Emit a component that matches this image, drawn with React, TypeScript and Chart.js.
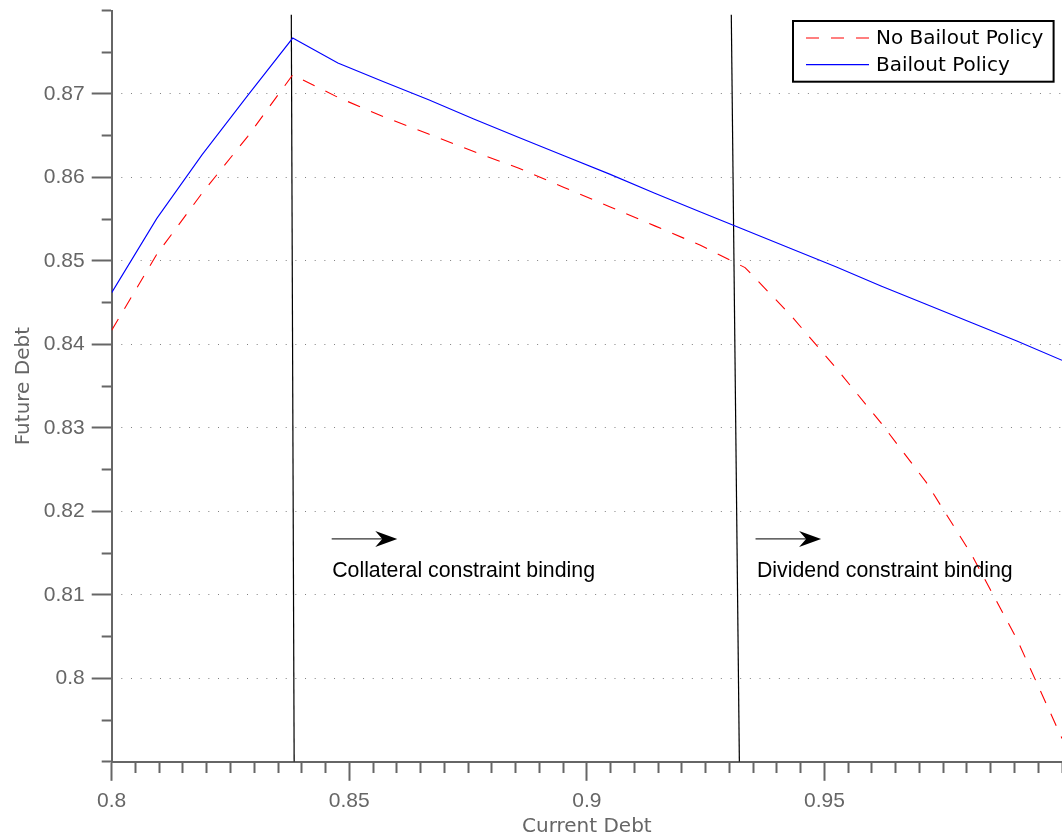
import React, { useEffect, useRef } from 'react';
import { Chart, registerables } from 'chart.js';

Chart.register(...registerables);

// ---- data ----
const currentDebt = [0.8, 0.8095, 0.819, 0.8286, 0.8381, 0.8476, 0.8571, 0.8667, 0.8762, 0.8857, 0.8952,
  0.9048, 0.9143, 0.9238, 0.9333, 0.9429, 0.9524, 0.9619, 0.9714, 0.981, 0.9905, 1.0];
const noBailout = [0.8417, 0.8508, 0.8581, 0.8649, 0.8723, 0.8696, 0.8673, 0.8652, 0.8631, 0.8611, 0.8588,
  0.8565, 0.8542, 0.8519, 0.8492, 0.8435, 0.8372, 0.8306, 0.8235, 0.8148, 0.8047, 0.7928];
const bailout = [0.8462, 0.8551, 0.8627, 0.8698, 0.8767, 0.8737, 0.8715, 0.8693, 0.867, 0.8648, 0.8626,
  0.8604, 0.8581, 0.8559, 0.8537, 0.8515, 0.8493, 0.847, 0.8448, 0.8426, 0.8404, 0.8381];

const seriesNames = ['No Bailout Policy', 'Bailout Policy'];

// constraint threshold lines (top x, bottom x) and their vertical span
const collateralLineX = [0.8378, 0.8384];
const dividendLineX = [0.9304, 0.9321];
const thresholdLineY = [0.8795, 0.79];

// annotations
const annotationTexts = ['Collateral constraint binding', 'Dividend constraint binding'];
const arrowStartX = [0.8463, 0.9355];
const arrowEndX = [0.8601, 0.9493];
const textX = [0.8464, 0.9358];
const arrowY = 0.8167;
const textY = 0.8121;

// ticks
const xMajorTicks = [0.8, 0.85, 0.9, 0.95];
const yMajorTicks = [0.8, 0.81, 0.82, 0.83, 0.84, 0.85, 0.86, 0.87];

const isIn = (list: number[], v: number) => list.some((t) => Math.abs(t - v) < 1e-6);

const TICK_FONT = '"Liberation Sans", Arial, sans-serif';
const TITLE_FONT = '"DejaVu Sans", sans-serif';
const AXIS_GRAY = '#666666';

const overlayPlugin = {
  id: 'overlay',
  afterDatasetsDraw(chart: any) {
    const { ctx, chartArea } = chart;
    const xs = chart.scales.x;
    const ys = chart.scales.y;
    ctx.save();
    // arrows + texts
    annotationTexts.forEach((t, i) => {
      const x1 = xs.getPixelForValue(arrowStartX[i]);
      const x2 = xs.getPixelForValue(arrowEndX[i]);
      const ya = ys.getPixelForValue(arrowY);
      ctx.strokeStyle = '#333';
      ctx.lineWidth = 1.4;
      ctx.setLineDash([]);
      ctx.beginPath();
      ctx.moveTo(x1, ya);
      ctx.lineTo(x2 - 14, ya);
      ctx.stroke();
      ctx.fillStyle = '#000';
      ctx.beginPath();
      ctx.moveTo(x2, ya);
      ctx.lineTo(x2 - 22, ya - 8);
      ctx.lineTo(x2 - 15, ya);
      ctx.lineTo(x2 - 22, ya + 8);
      ctx.closePath();
      ctx.fill();
      ctx.font = '21.3px ' + TICK_FONT;
      ctx.textAlign = 'left';
      ctx.textBaseline = 'alphabetic';
      ctx.fillText(t, xs.getPixelForValue(textX[i]), ys.getPixelForValue(textY));
    });

    // legend box
    const w = 260.6;
    const h = 60.7;
    const left = chartArea.right - 269;
    const top = chartArea.top + 10.5;
    ctx.fillStyle = '#fff';
    ctx.fillRect(left, top, w, h);
    ctx.strokeStyle = '#000';
    ctx.lineWidth = 2;
    ctx.strokeRect(left, top, w, h);
    const datasets = chart.data.datasets.slice(0, 2);
    datasets.forEach((ds: any, i: number) => {
      const cy = top + 17 + i * 26.6;
      ctx.strokeStyle = ds.borderColor;
      ctx.lineWidth = 1.2;
      ctx.setLineDash(ds.borderDash || []);
      ctx.beginPath();
      ctx.moveTo(left + 13, cy);
      ctx.lineTo(left + 76, cy);
      ctx.stroke();
      ctx.setLineDash([]);
      ctx.fillStyle = '#000';
      ctx.font = '20px ' + TITLE_FONT;
      ctx.textAlign = 'left';
      ctx.textBaseline = 'middle';
      ctx.fillText(ds.label, left + 83, cy + 1);
    });
    ctx.restore();
  },
};

export default function App() {
  const canvasRef = useRef<HTMLCanvasElement | null>(null);

  useEffect(() => {
    const canvas = canvasRef.current;
    if (!canvas) return;
    const chart = new Chart(canvas, {
      type: 'line',
      data: {
        datasets: [
          {
            label: seriesNames[0],
            data: currentDebt.map((x, i) => ({ x, y: noBailout[i] })),
            borderColor: '#ff0000',
            borderWidth: 1.1,
            borderDash: [13, 12],
            pointRadius: 0,
            tension: 0,
            fill: false,
          },
          {
            label: seriesNames[1],
            data: currentDebt.map((x, i) => ({ x, y: bailout[i] })),
            borderColor: '#0000ff',
            borderWidth: 1.1,
            pointRadius: 0,
            tension: 0,
            fill: false,
          },
          {
            label: 'collateral',
            data: [
              { x: collateralLineX[0], y: thresholdLineY[0] },
              { x: collateralLineX[1], y: thresholdLineY[1] },
            ],
            borderColor: '#000',
            borderWidth: 1.2,
            pointRadius: 0,
          },
          {
            label: 'dividend',
            data: [
              { x: dividendLineX[0], y: thresholdLineY[0] },
              { x: dividendLineX[1], y: thresholdLineY[1] },
            ],
            borderColor: '#000',
            borderWidth: 1.2,
            pointRadius: 0,
          },
        ],
      },
      options: {
        responsive: false,
        animation: false,
        events: [],
        layout: { padding: { top: 10.5, right: 0, bottom: 0, left: 0 } },
        plugins: {
          legend: { display: false },
          tooltip: { enabled: false },
          title: { display: false },
        },
        scales: {
          x: {
            type: 'linear',
            min: 0.8,
            max: 1.0,
            offset: false,
            afterFit: (s: any) => {
              s.height = 76.2;
              s.paddingLeft = 0;
              s.paddingRight = 0;
            },
            border: { color: AXIS_GRAY, width: 2 },
            grid: {
              drawOnChartArea: false,
              drawTicks: true,
              tickLength: 19,
              tickWidth: 2,
              tickColor: AXIS_GRAY,
              tickBorderDash: (c: any) => (c.tick && isIn(xMajorTicks, c.tick.value) ? [] : [10, 30]),
            },
            ticks: {
              stepSize: 0.005,
              autoSkip: false,
              maxRotation: 0,
              minRotation: 0,
              padding: 8,
              color: AXIS_GRAY,
              font: { family: TICK_FONT, size: 21 },
              callback: (v: any) => {
                const t = xMajorTicks.find((m) => Math.abs(m - v) < 1e-6);
                return t === undefined ? '' : String(t);
              },
            },
            title: {
              display: true,
              text: 'Current Debt',
              color: AXIS_GRAY,
              font: { family: TITLE_FONT, size: 20 },
              padding: { top: 0, bottom: -1 },
            },
          },
          y: {
            type: 'linear',
            min: 0.79,
            max: 0.88,
            afterFit: (s: any) => {
              s.width = 111.7;
              s.paddingTop = 0;
              s.paddingBottom = 0;
            },
            border: { color: AXIS_GRAY, width: 2, dash: [1, 8.67], dashOffset: 1.37 },
            grid: {
              drawOnChartArea: true,
              drawTicks: true,
              tickLength: 20,
              tickWidth: 2,
              tickColor: AXIS_GRAY,
              lineWidth: 1,
              color: (c: any) => (c.tick && isIn(yMajorTicks, c.tick.value) ? '#808080' : 'rgba(0,0,0,0)'),
              tickBorderDash: (c: any) => (c.tick && isIn(yMajorTicks, c.tick.value) ? [] : [0, 10, 20]),
            },
            ticks: {
              stepSize: 0.005,
              autoSkip: false,
              padding: 7,
              color: AXIS_GRAY,
              font: { family: TICK_FONT, size: 21 },
              callback: (v: any) => {
                const t = yMajorTicks.find((m) => Math.abs(m - v) < 1e-6);
                return t === undefined ? '' : String(t);
              },
            },
            title: {
              display: true,
              text: 'Future Debt',
              color: AXIS_GRAY,
              font: { family: TITLE_FONT, size: 20 },
              padding: { top: 12, bottom: 0 },
            },
          },
        },
      } as any,
      plugins: [overlayPlugin],
    });
    return () => chart.destroy();
  }, []);

  return (
    <div style={{ position: 'fixed', left: 0, top: 0, width: 1062, height: 838, background: '#fff' }}>
      <canvas ref={canvasRef} width={1062} height={838} style={{ display: 'block' }} />
    </div>
  );
}
